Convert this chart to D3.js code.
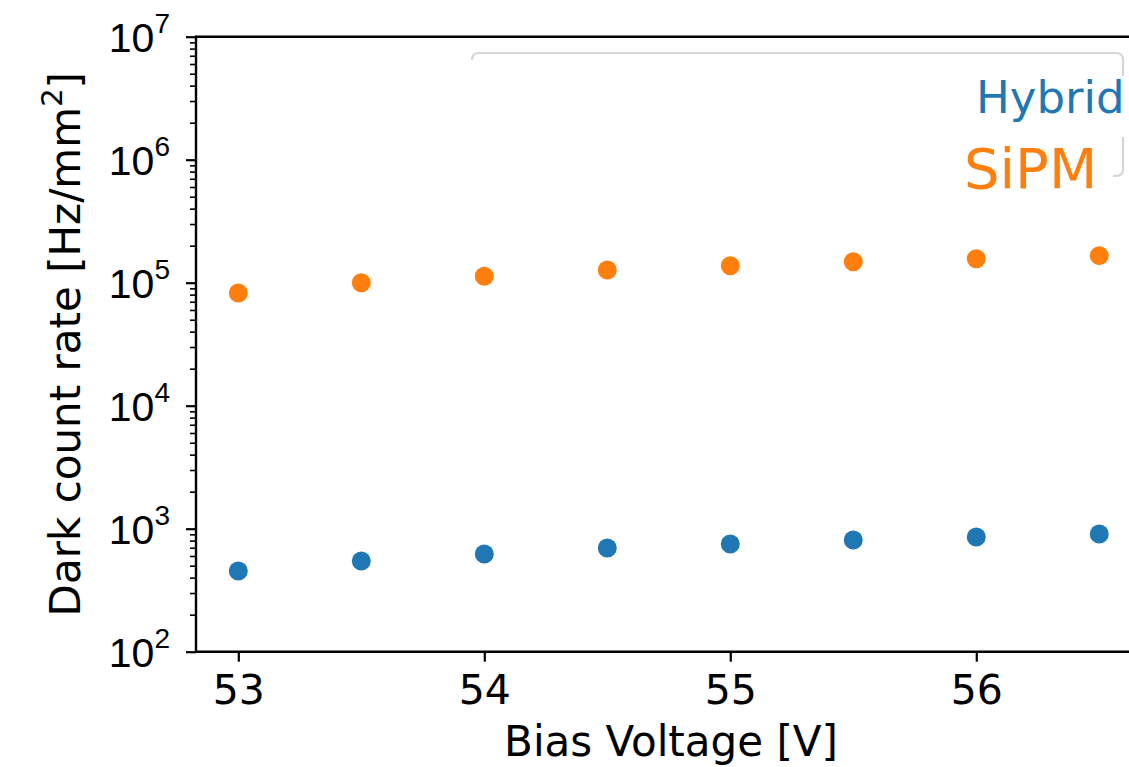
<!DOCTYPE html>
<html>
<head>
<meta charset="utf-8">
<script src="https://cdn.jsdelivr.net/npm/d3@7"></script>
<style>
  body { margin: 0; background: #fff; }
  svg { display: block; font-family: "DejaVu Sans", sans-serif; }
</style>
</head>
<body>
<div id="chart"></div>
<script>
// bias voltage in V
const voltages = [53, 53.5, 54, 54.5, 55, 55.5, 56, 56.5];
// dark count rate in Hz/mm^2
const hybrid = [453, 546, 622, 697, 750, 808, 855, 904];
const sipm = [82400, 100000, 113000, 126800, 137400, 148000, 156700, 166000];
const xTicks = [53, 54, 55, 56];
const yExps = [2, 3, 4, 5, 6, 7];

const width = 1129, height = 767;
const plotL = 196, plotR = 1146, plotT = 36.7, plotB = 651.7;

const svg = d3.select("#chart").append("svg")
    .attr("width", width)
    .attr("height", height);

const x = d3.scaleLinear().domain([52.828, 56.69]).range([plotL, plotR]);
const y = d3.scaleLog().domain([1e2, 1e7]).range([plotB, plotT]);

// minor ticks on the log axis
const minor = [];
yExps.slice(0, -1).forEach(e => {
    for (let k = 2; k <= 9; k++) minor.push(k * Math.pow(10, e));
});

svg.append("g")
    .attr("transform", `translate(${plotL},0)`)
    .call(d3.axisLeft(y).tickValues(minor).tickSize(6).tickFormat(""))
    .call(g => g.select(".domain").remove())
    .call(g => g.selectAll("line").attr("stroke", "#000").attr("stroke-width", 1.6));

const yAxis = svg.append("g")
    .attr("transform", `translate(${plotL},0)`)
    .call(d3.axisLeft(y).tickValues(yExps.map(e => Math.pow(10, e))).tickSize(10).tickFormat(""));
yAxis.select(".domain").remove();
yAxis.selectAll("line").attr("stroke", "#000").attr("stroke-width", 2.2);

yAxis.selectAll(".tick").each(function(d) {
    const t = d3.select(this).append("text")
        .attr("x", -26)
        .attr("y", 15)
        .attr("text-anchor", "end")
        .attr("fill", "#000")
        .style("font-size", "41px");
    t.append("tspan").text("10");
    t.append("tspan")
        .attr("dy", -19)
        .style("font-size", "28px")
        .text(Math.round(Math.log10(d)));
});

const xAxis = svg.append("g")
    .attr("transform", `translate(0,${plotB})`)
    .call(d3.axisBottom(x).tickValues(xTicks).tickSize(10).tickPadding(13).tickFormat(d3.format("d")));
xAxis.select(".domain").remove();
xAxis.selectAll("line").attr("stroke", "#000").attr("stroke-width", 2.2);
xAxis.selectAll("text")
    .attr("fill", "#000")
    .style("font-size", "41px")
    .style("font-family", "DejaVu Sans");

// spines
svg.append("line").attr("x1", plotL).attr("x2", plotR).attr("y1", plotT).attr("y2", plotT)
    .attr("stroke", "#000").attr("stroke-width", 2.4);
svg.append("line").attr("x1", plotL).attr("x2", plotR).attr("y1", plotB).attr("y2", plotB)
    .attr("stroke", "#000").attr("stroke-width", 2.4);
svg.append("line").attr("x1", plotL).attr("x2", plotL).attr("y1", plotT - 1.2).attr("y2", plotB + 1.2)
    .attr("stroke", "#000").attr("stroke-width", 2.4);

// points
svg.append("g").selectAll("circle")
    .data(voltages.map((v, i) => [v, hybrid[i]]))
    .enter().append("circle")
    .attr("cx", d => x(d[0]))
    .attr("cy", d => y(d[1]))
    .attr("r", 9.5)
    .attr("fill", "#1f77b4");

svg.append("g").selectAll("circle")
    .data(voltages.map((v, i) => [v, sipm[i]]))
    .enter().append("circle")
    .attr("cx", d => x(d[0]))
    .attr("cy", d => y(d[1]))
    .attr("r", 9.5)
    .attr("fill", "#ff7f0e");

// axis labels
svg.append("text")
    .attr("x", 671)
    .attr("y", 756)
    .attr("text-anchor", "middle")
    .style("font-size", "42px")
    .text("Bias Voltage [V]");

const yl = svg.append("text")
    .attr("transform", `translate(80,${(plotT + plotB) / 2}) rotate(-90)`)
    .attr("text-anchor", "middle")
    .style("font-size", "42px");
yl.append("tspan").text("Dark count rate [Hz/mm");
yl.append("tspan").attr("dy", -18).style("font-size", "29px").text("2");
yl.append("tspan").attr("dy", 18).text("]");

// legend frame (only partly visible in the original)
const frame = svg.append("g").attr("fill", "none").attr("stroke", "#d6d6d6").attr("stroke-width", 2.2);
frame.append("path").attr("d", "M472,60 Q472,53 479,53 L1116,53 Q1123,53 1123,60 L1123,76");
frame.append("path").attr("d", "M1123,137 L1123,169 Q1123,176 1116,176 L1113,176");

// legend labels
svg.append("text")
    .attr("x", 976)
    .attr("y", 113)
    .attr("fill", "#1f77b4")
    .style("font-size", "45px")
    .text("Hybrid");
svg.append("text")
    .attr("x", 964)
    .attr("y", 188)
    .attr("fill", "#ff7f0e")
    .style("font-size", "56px")
    .text("SiPM");
</script>
</body>
</html>
